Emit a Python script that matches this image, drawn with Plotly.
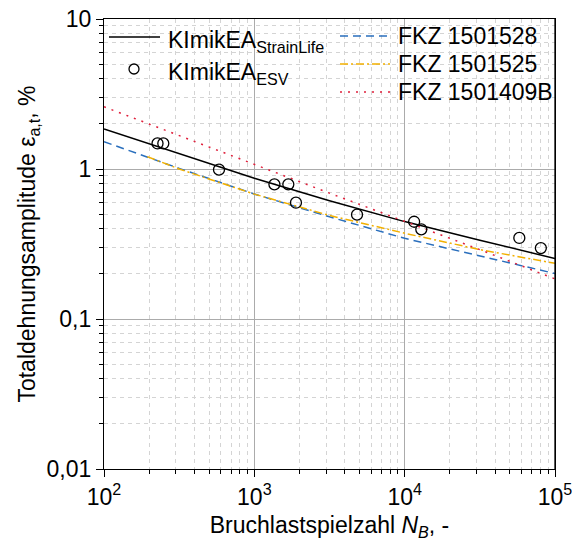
import plotly.graph_objects as go

# Experimental points (KImikEA ESV)
esv_N = [227, 248, 582, 1360, 1683, 1892, 4820, 11560, 12900, 57900, 80500]
esv_eps = [1.48, 1.48, 0.99, 0.79, 0.79, 0.596, 0.496, 0.445, 0.396, 0.347, 0.297]

# Strain-life curve KImikEA
sl_N = [100, 316, 1000, 3162, 10000, 31623, 100000]
sl_eps = [1.85, 1.265, 0.867, 0.615, 0.446, 0.335, 0.253]

# FKZ 1501528
f28_N = [100, 316, 1000, 3162, 10000, 31623, 100000]
f28_eps = [1.52, 1.01, 0.681, 0.48, 0.345, 0.262, 0.201]

# FKZ 1501525
f25_N = [194, 316, 1000, 3162, 10000, 31623, 100000]
f25_eps = [1.21, 1.0, 0.68, 0.49, 0.373, 0.29, 0.235]

# FKZ 1501409B
f09_N = [100, 316, 1000, 3162, 10000, 31623, 100000]
f09_eps = [2.6, 1.67, 1.07, 0.69, 0.448, 0.29, 0.185]

x_tickvals = [100, 1000, 10000, 100000]
x_ticktext = ["10<sup>2</sup>", "10<sup>3</sup>", "10<sup>4</sup>", "10<sup>5</sup>"]
y_tickvals = [0.01, 0.1, 1, 10]
y_ticktext = ["0,01", "0,1", "1", "10"]
x_minor = [k * 10 ** d for d in (2, 3, 4) for k in range(2, 10)]
y_minor = [k * 10.0 ** d for d in (-2, -1, 0) for k in range(2, 10)]

FONT = "Arial, Liberation Sans, sans-serif"
FS = 23
BLUE, ORANGE, RED = "#2a6fbd", "#f2b000", "#e0203c"
DASH_B, DASH_O, DASH_R = "8px,5px", "8px,3px,2px,3px", "2px,6px"

fig = go.Figure()
fig.add_trace(go.Scatter(x=sl_N, y=sl_eps, mode="lines", name="KImikEA StrainLife",
                         line=dict(color="black", width=1.5)))
fig.add_trace(go.Scatter(x=f28_N, y=f28_eps, mode="lines", name="FKZ 1501528",
                         line=dict(color=BLUE, width=1.5, dash=DASH_B)))
fig.add_trace(go.Scatter(x=f25_N, y=f25_eps, mode="lines", name="FKZ 1501525",
                         line=dict(color=ORANGE, width=1.5, dash=DASH_O)))
fig.add_trace(go.Scatter(x=f09_N, y=f09_eps, mode="lines", name="FKZ 1501409B",
                         line=dict(color=RED, width=1.5, dash=DASH_R)))
fig.add_trace(go.Scatter(x=esv_N, y=esv_eps, mode="markers", name="KImikEA ESV",
                         marker=dict(symbol="circle-open", size=11, color="black", line=dict(width=1.3))))

axis_common = dict(
    type="log", automargin=False,
    showline=True, linecolor="black", linewidth=1.2, mirror=True,
    ticks="outside", ticklen=7, tickcolor="black", tickwidth=1,
    showgrid=True, gridcolor="#ababab", gridwidth=1,
    zeroline=False, ticklabeloverflow="allow",
    tickfont=dict(family=FONT, size=FS, color="black"),
)

# plot area in px: x 104..555, y 19..469
L, R, T, B = 104, 555, 19, 469
def px(x):
    return (x - L) / (R - L)
def py(y):
    return (B - y) / (B - T)

shapes = []
annotations = []
# right edge of the frame drawn explicitly
shapes.append(dict(type="line", xref="paper", yref="paper", x0=1, x1=1, y0=0, y1=1,
                   line=dict(color="black", width=1.3), layer="above"))
# manual legend, left column
shapes.append(dict(type="line", xref="paper", yref="paper", x0=px(109), x1=px(160), y0=py(37), y1=py(37),
                   line=dict(color="black", width=1.5)))
shapes.append(dict(type="circle", xref="paper", yref="paper", xsizemode="pixel", ysizemode="pixel",
                   xanchor=px(134), yanchor=py(69), x0=-5, x1=5, y0=-5, y1=5,
                   line=dict(color="black", width=1.3)))
annotations.append(dict(text="KImikEA<sub>StrainLife</sub>", xref="paper", yref="paper", x=px(166), y=py(37),
                        xanchor="left", yanchor="middle", yshift=-4, showarrow=False,
                        font=dict(family=FONT, size=FS, color="black")))
annotations.append(dict(text="KImikEA<sub>ESV</sub>", xref="paper", yref="paper", x=px(166), y=py(69),
                        xanchor="left", yanchor="middle", yshift=-4, showarrow=False,
                        font=dict(family=FONT, size=FS, color="black")))
# right column
for yy, col, dsh, lab in [(36, BLUE, DASH_B, "FKZ 1501528"), (64, ORANGE, DASH_O, "FKZ 1501525"),
                          (92, RED, DASH_R, "FKZ 1501409B")]:
    shapes.append(dict(type="line", xref="paper", yref="paper", x0=px(340), x1=px(390), y0=py(yy), y1=py(yy),
                       line=dict(color=col, width=1.5, dash=dsh)))
    annotations.append(dict(text=lab, xref="paper", yref="paper", x=px(396), y=py(yy),
                            xanchor="left", yanchor="middle", showarrow=False,
                            font=dict(family=FONT, size=FS, color="black")))

fig.update_layout(
    width=572, height=549,
    margin=dict(l=L, r=572 - R, t=T, b=549 - B),
    paper_bgcolor="white", plot_bgcolor="white",
    font=dict(family=FONT, size=FS, color="black"),
    showlegend=False,
    xaxis=dict(axis_common, range=[2, 5], tickvals=x_tickvals, ticktext=x_ticktext,
               minor=dict(tickvals=x_minor, ticks="outside", ticklen=4, tickcolor="black", showgrid=True,
                          gridcolor="#d4d4d4", griddash="4px,4px", gridwidth=1),
               title=dict(text="Bruchlastspielzahl <i>N<sub>B</sub></i>, -", font=dict(size=FS), standoff=8)),
    yaxis=dict(axis_common, range=[-2, 1], tickvals=y_tickvals, ticktext=y_ticktext,
               minor=dict(tickvals=y_minor, ticks="outside", ticklen=4, tickcolor="black", showgrid=True,
                          gridcolor="#d4d4d4", griddash="4px,4px", gridwidth=1),
               title=dict(text="Totaldehnungsamplitude ε<sub>a,t</sub>, %", font=dict(size=FS), standoff=4)),
    shapes=shapes,
    annotations=annotations,
)

fig.write_html("out.html")
